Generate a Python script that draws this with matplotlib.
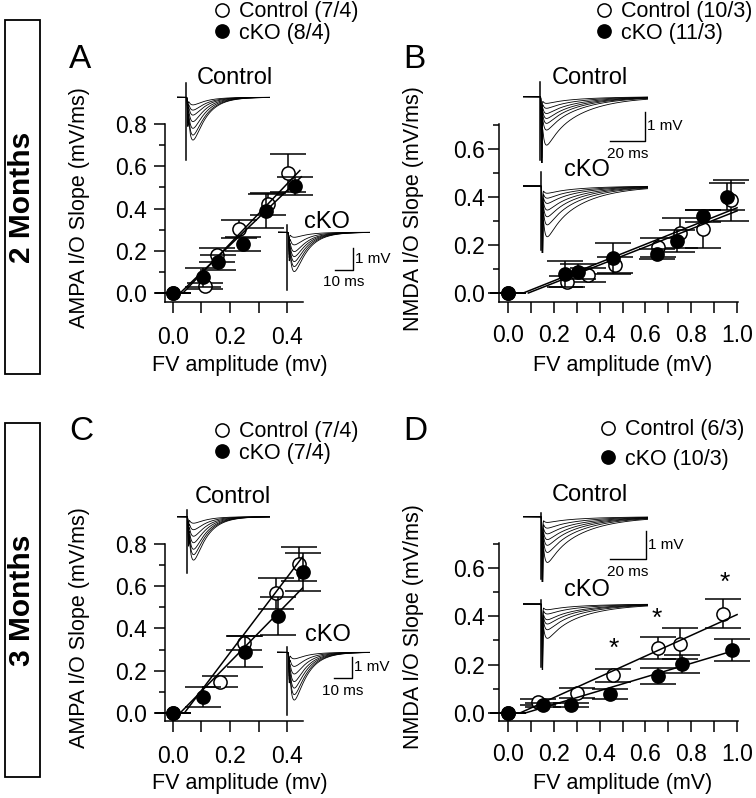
import numpy as np
import matplotlib
matplotlib.use("Agg")
import matplotlib.pyplot as plt
from matplotlib.patches import Rectangle
from matplotlib.ticker import MultipleLocator, FormatStrFormatter

plt.rcParams['font.family'] = ['Liberation Sans', 'DejaVu Sans']

# ---------------- data ----------------
# A: AMPA I/O slope, 2 months
a_ctl_x = [0.0, 0.112, 0.153, 0.232, 0.332, 0.402]
a_ctl_y = [0.0, 0.033, 0.180, 0.303, 0.420, 0.570]
a_ctl_e = [0.0, 0.016, 0.032, 0.042, 0.052, 0.090]
a_cko_x = [0.0, 0.106, 0.159, 0.247, 0.326, 0.428]
a_cko_y = [0.0, 0.074, 0.145, 0.232, 0.390, 0.506]
a_cko_e = [0.0, 0.046, 0.036, 0.035, 0.080, 0.042]
a_fit_ctl_x, a_fit_ctl_y = [0.035, 0.445], [0.0, 0.580]
a_fit_cko_x, a_fit_cko_y = [0.025, 0.450], [0.0, 0.550]

# B: NMDA I/O slope, 2 months
b_ctl_x = [0.0, 0.256, 0.351, 0.467, 0.657, 0.751, 0.850, 0.974]
b_ctl_y = [0.0, 0.047, 0.075, 0.117, 0.190, 0.249, 0.265, 0.387]
b_ctl_e = [0.0, 0.022, 0.028, 0.035, 0.038, 0.062, 0.079, 0.085]
b_cko_x = [0.0, 0.250, 0.307, 0.457, 0.649, 0.737, 0.850, 0.955]
b_cko_y = [0.0, 0.080, 0.089, 0.144, 0.162, 0.218, 0.321, 0.401]
b_cko_e = [0.0, 0.053, 0.032, 0.063, 0.022, 0.046, 0.025, 0.057]
b_fit_ctl_x, b_fit_ctl_y = [0.067, 1.0], [0.0, 0.355]
b_fit_cko_x, b_fit_cko_y = [0.089, 1.0], [0.0, 0.342]

# C: AMPA I/O slope, 3 months
c_ctl_x = [0.0, 0.165, 0.249, 0.361, 0.443]
c_ctl_y = [0.0, 0.148, 0.330, 0.566, 0.705]
c_ctl_e = [0.0, 0.027, 0.034, 0.074, 0.082]
c_cko_x = [0.0, 0.106, 0.253, 0.370, 0.455]
c_cko_y = [0.0, 0.077, 0.290, 0.459, 0.666]
c_cko_e = [0.0, 0.047, 0.074, 0.090, 0.090]
c_fit_ctl_x, c_fit_ctl_y = [0.040, 0.455], [0.0, 0.740]
c_fit_cko_x, c_fit_cko_y = [0.025, 0.475], [0.0, 0.620]

# D: NMDA I/O slope, 3 months
d_ctl_x = [0.0, 0.132, 0.300, 0.460, 0.657, 0.751, 0.937]
d_ctl_y = [0.0, 0.047, 0.082, 0.156, 0.270, 0.287, 0.410]
d_ctl_e = [0.0, 0.013, 0.020, 0.027, 0.045, 0.065, 0.060]
d_cko_x = [0.0, 0.154, 0.274, 0.445, 0.654, 0.758, 0.977]
d_cko_y = [0.0, 0.033, 0.033, 0.079, 0.153, 0.203, 0.261]
d_cko_e = [0.0, 0.010, 0.010, 0.020, 0.032, 0.037, 0.046]
d_fit_ctl_x, d_fit_ctl_y = [0.052, 1.0], [0.0, 0.407]
d_fit_cko_x, d_fit_cko_y = [0.075, 1.0], [0.0, 0.262]
d_star_x = [0.46, 0.65, 0.945]
d_star_y = [0.264, 0.388, 0.539]

# example trace peak amplitudes (mV)
a_ctl_amp = [0.35, 0.59, 0.82, 1.12, 1.43, 1.74, 1.97]
a_cko_amp = [0.23, 0.58, 0.89, 1.12, 1.35, 1.58, 1.81]
b_ctl_amp = [0.23, 0.40, 0.58, 0.75, 0.92, 1.15, 1.67]
b_cko_amp = [0.25, 0.42, 0.60, 0.83, 1.06, 1.34, 1.75]
c_ctl_amp = [0.30, 0.60, 0.90, 1.20, 1.50, 1.75, 2.00]
c_cko_amp = [0.30, 0.65, 1.00, 1.35, 1.65, 1.95, 2.20]
d_ctl_amp = [0.20, 0.40, 0.60, 0.80, 1.00, 1.25, 1.60]
d_cko_amp = [0.20, 0.35, 0.55, 0.70, 0.90, 1.20]

legend_a = ['Control (7/4)', 'cKO (8/4)']
legend_b = ['Control (10/3)', 'cKO (11/3)']
legend_c = ['Control (7/4)', 'cKO (7/4)']
legend_d = ['Control (6/3)', 'cKO (10/3)']

# ---------------- layout helpers (pixel coords, origin top-left) ----------------
W, H = 756, 798
fig = plt.figure(figsize=(W / 100, H / 100), dpi=100)

TICK_FS = 16.5
LABEL_FS = 15.5
LEG_FS = 15.5
INSET_FS = 17


def axes_px(left, top, right, bottom):
    return fig.add_axes([left / W, 1 - bottom / H, (right - left) / W, (bottom - top) / H])


def ftext(x, y, s, **kw):
    fig.text(x / W, 1 - y / H, s, **kw)


def io_panel(box, xlim, ylim, xmaj, ymaj, xpad, ypad):
    ax = axes_px(*box)
    ax.set_xlim(*xlim)
    ax.set_ylim(*ylim)
    for side in ('top', 'right'):
        ax.spines[side].set_visible(False)
    for side in ('left', 'bottom'):
        ax.spines[side].set_linewidth(1.1)
    ax.xaxis.set_major_locator(MultipleLocator(xmaj))
    ax.xaxis.set_minor_locator(MultipleLocator(xmaj / 2))
    ax.yaxis.set_major_locator(MultipleLocator(ymaj))
    ax.yaxis.set_minor_locator(MultipleLocator(ymaj / 2))
    ax.xaxis.set_major_formatter(FormatStrFormatter('%.1f'))
    ax.yaxis.set_major_formatter(FormatStrFormatter('%.1f'))
    ax.tick_params(which='both', direction='out', width=1.1, labelsize=TICK_FS)
    ax.tick_params(axis='x', which='both', length=8, pad=xpad)
    ax.tick_params(axis='y', which='major', length=8, pad=ypad)
    ax.tick_params(axis='y', which='minor', length=4.5)
    return ax


def plot_groups(ax, ctl, cko, fit_ctl, fit_cko):
    style = dict(fmt='o', ms=9.5, mec='black', mew=1.1, ecolor='black',
                 elinewidth=1.1, capsize=13, capthick=1.1)
    h1 = ax.errorbar(ctl[0], ctl[1], yerr=ctl[2], mfc='white', zorder=3, **style)
    h2 = ax.errorbar(cko[0], cko[1], yerr=cko[2], mfc='black', zorder=4, **style)
    for h in (h1, h2):
        for art in [h.lines[0]] + list(h.lines[1]) + list(h.lines[2]):
            art.set_clip_on(False)
    ax.plot(fit_ctl[0], fit_ctl[1], color='black', lw=1.1, zorder=5)
    ax.plot(fit_cko[0], fit_cko[1], color='black', lw=1.1, zorder=5)
    return h1[0], h2[0]


def add_legend(handles, labels, left, cy, spacing):
    fig.legend(handles, labels, loc='center left', bbox_to_anchor=(left / W, 1 - cy / H),
               frameon=False, fontsize=LEG_FS, handlelength=0.8, handletextpad=0.4,
               borderpad=0, borderaxespad=0, labelspacing=spacing, numpoints=1)


def biexp(s, tr, td):
    s = np.clip(s, 0, None)
    g = np.exp(-s / td) - np.exp(-s / tr)
    return g / g.max()


def trace_inset(x0, base, ms_px, mv_px, span, up, down):
    ax = fig.add_axes([x0 / W, 1 - (base + down * mv_px) / H,
                       span * ms_px / W, (up + down) * mv_px / H])
    ax.set_xlim(0, span)
    ax.set_ylim(-down, up)
    ax.axis('off')
    return ax


def draw_traces(ax, amps, t_stim, span, art_up, art_down, kind):
    t = np.arange(0, span, 0.05)
    s = t - t_stim - 0.8
    if kind == 'ampa':
        shape = biexp(s, 1.6, 7.5)
    else:
        shape = 0.4 * biexp(s, 0.9, 3.5) + 0.6 * biexp(s, 2.5, 20.0)
        shape = shape / shape.max()
    for k, amp in enumerate(amps):
        fv = (0.35 + 0.1 * k) * np.exp(-((t - t_stim - 1.0) / 0.3) ** 2)
        if kind != 'ampa':
            fv = fv * 3.0
        ax.plot(t, -amp * shape - fv, color='black', lw=0.6)
    ax.plot([t_stim, t_stim], [art_up, -art_down], color='black', lw=1.1)


def scale_bar(ax, t_end, v_top, dt, dv, ms_lab, dy_lab):
    ax.plot([t_end - dt, t_end, t_end], [v_top - dv, v_top - dv, v_top],
            color='black', lw=1.0, clip_on=False)
    ax.text(t_end + 1.2, v_top - dv / 2, '1 mV', fontsize=11, ha='left', va='center')
    ax.text(t_end - dt / 2, v_top - dv - dy_lab, ms_lab, fontsize=11,
            ha='center', va='top')


# ---------------- month boxes ----------------
for top, bot, lab in [(20, 374, '2 Months'), (423, 777, '3 Months')]:
    fig.add_artist(Rectangle((5 / W, 1 - bot / H), 35 / W, (bot - top) / H,
                             transform=fig.transFigure, fill=False, lw=1.3, ec='black'))
    ftext(22.5, (top + bot) / 2, lab, rotation=90, fontsize=21.5, fontweight='bold',
          ha='center', va='center')

# ---------------- panel A ----------------
axA = io_panel((165, 124, 303, 302), (-0.028, 0.456), (-0.0426, 0.8), 0.2, 0.2, 9, 5)
hA = plot_groups(axA, (a_ctl_x, a_ctl_y, a_ctl_e), (a_cko_x, a_cko_y, a_cko_e),
                 (a_fit_ctl_x, a_fit_ctl_y), (a_fit_cko_x, a_fit_cko_y))
add_legend(hA, legend_a, 213, 22.5, 0.0)

# ---------------- panel B ----------------
axB = io_panel((499, 124, 738, 302), (-0.039, 1.004), (-0.0375, 0.704), 0.2, 0.2, 7.5, 2.4)
hB = plot_groups(axB, (b_ctl_x, b_ctl_y, b_ctl_e), (b_cko_x, b_cko_y, b_cko_e),
                 (b_fit_ctl_x, b_fit_ctl_y), (b_fit_cko_x, b_fit_cko_y))
add_legend(hB, legend_b, 595, 22.5, 0.0)

# ---------------- panel C ----------------
axC = io_panel((165, 544, 303, 721), (-0.028, 0.456), (-0.038, 0.8), 0.2, 0.2, 9, 5)
hC = plot_groups(axC, (c_ctl_x, c_ctl_y, c_ctl_e), (c_cko_x, c_cko_y, c_cko_e),
                 (c_fit_ctl_x, c_fit_ctl_y), (c_fit_cko_x, c_fit_cko_y))
add_legend(hC, legend_c, 213, 442.5, 0.0)

# ---------------- panel D ----------------
axD = io_panel((499, 543, 738, 721), (-0.039, 1.004), (-0.033, 0.703), 0.2, 0.2, 7.5, 2.4)
hD = plot_groups(axD, (d_ctl_x, d_ctl_y, d_ctl_e), (d_cko_x, d_cko_y, d_cko_e),
                 (d_fit_ctl_x, d_fit_ctl_y), (d_fit_cko_x, d_fit_cko_y))
for sx, sy in zip(d_star_x, d_star_y):
    axD.text(sx, sy, '*', fontsize=19, ha='center', va='center')
add_legend(hD, legend_d, 599, 444.5, 0.4)

# ---------------- axis labels and panel letters ----------------
for (x, y) in [(239.5, 365), (239.5, 783)]:
    ftext(x, y, 'FV amplitude (mv)', fontsize=LABEL_FS, ha='center', va='center')
for (x, y) in [(622.5, 365), (622.5, 783)]:
    ftext(x, y, 'FV amplitude (mV)', fontsize=LABEL_FS, ha='center', va='center')
ftext(80, 208, 'AMPA I/O Slope (mV/ms)', fontsize=LABEL_FS, rotation=90, ha='center', va='center')
ftext(80, 628, 'AMPA I/O Slope (mV/ms)', fontsize=LABEL_FS, rotation=90, ha='center', va='center')
ftext(413, 209, 'NMDA I/O Slope (mV/ms)', fontsize=LABEL_FS, rotation=90, ha='center', va='center')
ftext(413, 627, 'NMDA I/O Slope (mV/ms)', fontsize=LABEL_FS, rotation=90, ha='center', va='center')
for (x, y, lab) in [(80, 59, 'A'), (414, 59, 'B'), (81, 432, 'C'), (415, 432, 'D')]:
    ftext(x, y, lab, fontsize=24, ha='center', va='center')

# ---------------- example traces ----------------
# A
ax = trace_inset(176.7, 97.3, 1.77, 21.7, 52.7, 0.7, 3.0)
draw_traces(ax, a_ctl_amp, 5.25, 52.7, 0.66, 2.89, 'ampa')
ftext(235, 78, 'Control', fontsize=INSET_FS, ha='center', va='center')
ax = trace_inset(278.3, 232.3, 1.77, 21.7, 51.8, 0.4, 2.8)
draw_traces(ax, a_cko_amp, 5.1, 51.8, 0.34, 2.66, 'ampa')
scale_bar(ax, 42.0, -0.74, 10, 1.0, '10 ms', 0.25)
ftext(327, 222, 'cKO', fontsize=INSET_FS, ha='center', va='center')

# B
ax = trace_inset(523.3, 96.7, 1.75, 29.0, 71.4, 0.6, 2.3)
draw_traces(ax, b_ctl_amp, 9.5, 71.4, 0.52, 2.18, 'nmda')
scale_bar(ax, 69.5, -0.52, 20, 1.0, '20 ms', 0.2)
ftext(590, 78, 'Control', fontsize=INSET_FS, ha='center', va='center')
ax = trace_inset(523.3, 186.0, 1.75, 29.0, 71.4, 0.6, 2.3)
draw_traces(ax, b_cko_amp, 9.9, 71.4, 0.49, 2.21, 'nmda')
ftext(587, 170, 'cKO', fontsize=INSET_FS, ha='center', va='center')

# C
ax = trace_inset(176.7, 516.7, 1.77, 21.7, 52.7, 0.5, 2.8)
draw_traces(ax, c_ctl_amp, 5.6, 52.7, 0.31, 2.6, 'ampa')
ftext(233, 497, 'Control', fontsize=INSET_FS, ha='center', va='center')
ax = trace_inset(276.7, 652.3, 1.77, 21.7, 52.5, 0.4, 3.0)
draw_traces(ax, c_cko_amp, 6.0, 52.5, 0.26, 2.9, 'ampa')
scale_bar(ax, 42.4, -0.2, 10, 1.0, '10 ms', 0.25)
ftext(328, 635, 'cKO', fontsize=INSET_FS, ha='center', va='center')

# D
ax = trace_inset(523.3, 516.7, 1.8, 28.6, 69.4, 0.3, 2.3)
draw_traces(ax, d_ctl_amp, 9.6, 69.4, 0.13, 2.18, 'nmda')
scale_bar(ax, 68.2, -0.49, 20, 1.0, '20 ms', 0.2)
ftext(590, 495, 'Control', fontsize=INSET_FS, ha='center', va='center')
ax = trace_inset(523.3, 604.0, 1.8, 28.6, 69.4, 0.3, 2.3)
draw_traces(ax, d_cko_amp, 9.6, 69.4, 0.14, 2.19, 'nmda')
ftext(587, 590, 'cKO', fontsize=INSET_FS, ha='center', va='center')

fig.savefig('out.png', dpi=100)
